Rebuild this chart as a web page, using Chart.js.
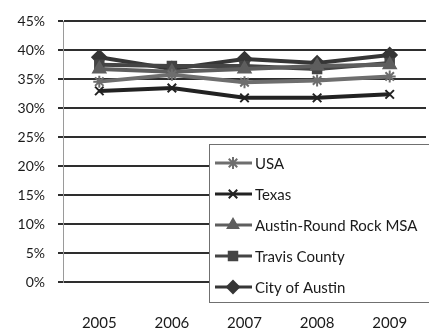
<!DOCTYPE html>
<html>
<head>
<meta charset="utf-8">
<script src="https://cdn.jsdelivr.net/npm/chart.js@4/dist/chart.umd.min.js"></script>
<style>
  html, body { margin: 0; padding: 0; background: #fff; overflow: hidden; }
  #wrap { width: 429px; height: 332px; overflow: hidden; position: relative; }
  canvas { display: block; }
</style>
</head>
<body>
<div id="wrap"><canvas id="c" width="440" height="332"></canvas></div>
<script>
// Share of households, by area and year (percent)
const years = ['2005', '2006', '2007', '2008', '2009'];
const seriesNames = ['USA', 'Texas', 'Austin-Round Rock MSA', 'Travis County', 'City of Austin'];
const usa = [34.6, 35.8, 34.5, 34.8, 35.5];
const texas = [33.0, 33.5, 31.8, 31.8, 32.4];
const austinMsa = [36.8, 36.3, 36.8, 37.3, 37.5];
const travisCounty = [37.5, 37.3, 37.3, 36.8, 37.8];
const cityOfAustin = [38.8, 36.8, 38.5, 37.8, 39.2];
const yTicks = [0, 5, 10, 15, 20, 25, 30, 35, 40, 45];

const seriesValues = [usa, texas, austinMsa, travisCounty, cityOfAustin];
const styles = [
  { color: '#6e6e6e', point: 'star', r: 6 },
  { color: '#222222', point: 'crossRot', r: 6 },
  { color: '#5e5e5e', point: 'triangle', r: 7 },
  { color: '#444444', point: 'rect', r: 6 },
  { color: '#363636', point: 'rectRot', r: 7 }
];

const datasets = seriesNames.map((name, i) => ({
  label: name,
  data: seriesValues[i],
  borderColor: styles[i].color,
  backgroundColor: styles[i].color,
  borderWidth: 4,
  pointStyle: styles[i].point,
  pointRadius: styles[i].r,
  pointBorderWidth: 2,
  tension: 0
}));

const FONT = "Lato, 'Open Sans', sans-serif";

// Bordered legend drawn over the plot, extending below the axis
const boxLegend = {
  id: 'boxLegend',
  afterDraw(chart) {
    const ctx = chart.ctx;
    const x0 = 209.5, y0 = 144.5, x1 = 445, y1 = 302.5;
    ctx.save();
    ctx.fillStyle = '#fff';
    ctx.fillRect(x0, y0, x1 - x0, y1 - y0);
    ctx.strokeStyle = '#707070';
    ctx.lineWidth = 1;
    ctx.strokeRect(x0, y0, x1 - x0, y1 - y0);
    ctx.font = "15px " + FONT;
    ctx.textBaseline = 'middle';
    ctx.textAlign = 'left';
    chart.data.datasets.forEach((ds, i) => {
      const cy = 163 + i * 31;
      ctx.strokeStyle = ds.borderColor;
      ctx.fillStyle = ds.borderColor;
      ctx.lineWidth = 3;
      ctx.beginPath();
      ctx.moveTo(215, cy);
      ctx.lineTo(252, cy);
      ctx.stroke();
      ctx.lineWidth = 2;
      Chart.helpers.drawPoint(ctx, {
        pointStyle: ds.pointStyle,
        radius: 6,
        borderWidth: 2,
        rotation: 0
      }, 233, cy);
      ctx.fillStyle = '#1a1a1a';
      ctx.fillText(ds.label, 255, cy + 1);
    });
    ctx.restore();
  }
};

new Chart(document.getElementById('c'), {
  type: 'line',
  data: { labels: years, datasets },
  plugins: [boxLegend],
  options: {
    responsive: false,
    animation: false,
    layout: { padding: { top: 13, left: 0, right: 0, bottom: 0 } },
    plugins: { legend: { display: false }, tooltip: { enabled: false } },
    scales: {
      x: {
        offset: true,
        grid: { display: false, drawTicks: false },
        border: { display: false },
        ticks: { color: '#1a1a1a', font: { family: FONT, size: 15 }, padding: 32 },
        afterFit(s) { s.height = 50; }
      },
      y: {
        min: 0, max: 45,
        afterBuildTicks(s) { s.ticks = yTicks.map(v => ({ value: v })); },
        grid: { color: '#2e2e2e', lineWidth: 2, tickLength: 5 },
        border: { color: '#9a9a9a', width: 1 },
        ticks: {
          color: '#1a1a1a',
          font: { family: FONT, size: 14 },
          padding: 13,
          callback: v => v + '%'
        },
        afterFit(s) { s.width = 63; }
      }
    }
  }
});
</script>
</body>
</html>
